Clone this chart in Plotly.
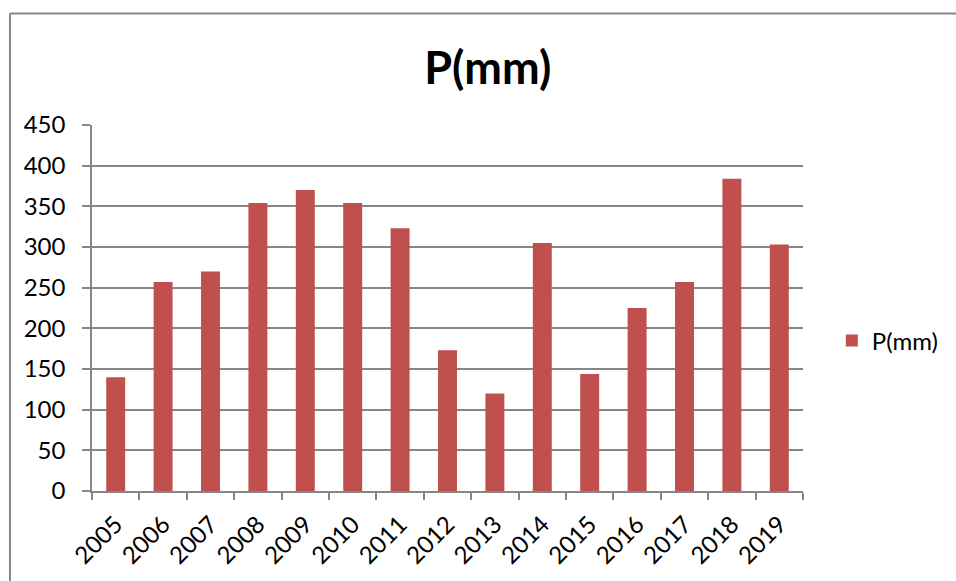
import plotly.graph_objects as go

# Annual precipitation totals
years = ["2005", "2006", "2007", "2008", "2009", "2010", "2011", "2012",
         "2013", "2014", "2015", "2016", "2017", "2018", "2019"]
precip_mm = [140, 257, 270, 354, 370, 354, 323, 173,
             120, 305, 144, 225, 257, 384, 303]
y_ticks = [0, 50, 100, 150, 200, 250, 300, 350, 400, 450]

series_name = "P(mm)"
bar_color = "#C0504D"
line_grey = "#868686"
font_family = "Lato, 'Open Sans', sans-serif"

W, H = 956, 581
L, R, T, B = 92, 149, 125, 88
plot_w = W - L - R
plot_h = H - T - B

fig = go.Figure()
fig.add_trace(go.Bar(
    x=years,
    y=precip_mm,
    name=series_name,
    marker=dict(color=bar_color, line=dict(width=0)),
    showlegend=True,
))


def px_to_paper_x(px):
    return (px - L) / plot_w


def px_to_paper_y(py):
    return (H - B - py) / plot_h


fig.update_layout(
    width=W,
    height=H,
    margin=dict(l=L, r=R, t=T, b=B, pad=0),
    paper_bgcolor="white",
    plot_bgcolor="white",
    bargap=0.6,
    font=dict(family=font_family, size=24, color="black"),
    title=dict(
        text="<b>P(mm)</b>",
        font=dict(family=font_family, size=45, color="black"),
        x=px_to_paper_x(490),
        xref="paper",
        xanchor="center",
        y=1 - 68 / H,
        yref="container",
        yanchor="middle",
    ),
    legend=dict(
        x=px_to_paper_x(836),
        xanchor="left",
        y=px_to_paper_y(342),
        yanchor="middle",
        font=dict(family=font_family, size=24, color="black"),
        bgcolor="rgba(0,0,0,0)",
        borderwidth=0,
    ),
    xaxis=dict(
        type="category",
        showline=True,
        linecolor=line_grey,
        linewidth=1.5,
        ticks="outside",
        tickson="boundaries",
        ticklen=7,
        tickcolor=line_grey,
        tickwidth=1.5,
        showgrid=False,
        tickangle=-45,
        ticklabelstandoff=8,
        tickfont=dict(family=font_family, size=24, color="black"),
        zeroline=False,
    ),
    yaxis=dict(
        range=[0, 450],
        tickvals=y_ticks,
        showline=True,
        linecolor=line_grey,
        linewidth=1.5,
        ticks="outside",
        ticklen=8,
        tickcolor=line_grey,
        tickwidth=1.5,
        showgrid=True,
        gridcolor=line_grey,
        gridwidth=1.5,
        zeroline=False,
        ticklabelstandoff=12,
        tickfont=dict(family=font_family, size=24, color="black"),
    ),
    shapes=[
        # chart-area frame (top and left edges visible)
        dict(
            type="line", xref="paper", yref="paper",
            x0=px_to_paper_x(9.5), x1=px_to_paper_x(W + 5),
            y0=px_to_paper_y(13), y1=px_to_paper_y(13),
            line=dict(color=line_grey, width=2),
        ),
        dict(
            type="line", xref="paper", yref="paper",
            x0=px_to_paper_x(9.5), x1=px_to_paper_x(9.5),
            y0=px_to_paper_y(13), y1=px_to_paper_y(H + 5),
            line=dict(color=line_grey, width=2),
        ),
    ],
)

fig.write_html("out.html")
